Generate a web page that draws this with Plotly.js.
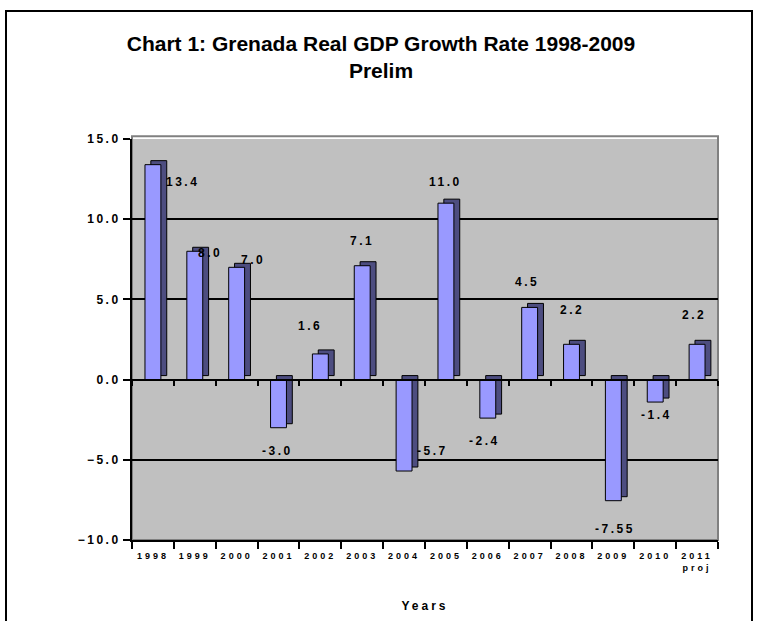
<!DOCTYPE html>
<html>
<head>
<meta charset="utf-8">
<script src="https://cdn.plot.ly/plotly-3.0.1.min.js"></script>
<style>
  body { margin: 0; background: #fff; }
  #wrap { position: relative; width: 762px; height: 621px; overflow: hidden; }
  #chart { width: 762px; height: 621px; }
  #frame { position: absolute; left: 5px; top: 10px; width: 744px; height: 660px; border: 2px solid #000; pointer-events: none; }
  .xtick text { letter-spacing: 3px; }
  .ytick text { letter-spacing: 2.5px; }
  .annotation-text { letter-spacing: 2.5px; }
  .xtitle { letter-spacing: 3px; }
</style>
</head>
<body>
<div id="wrap">
  <div id="chart"></div>
  <div id="frame"></div>
</div>
<script>
// ---- data ----
const years = ['1998','1999','2000','2001','2002','2003','2004','2005','2006','2007','2008','2009','2010','2011'];
const growth = [13.4, 8.0, 7.0, -3.0, 1.6, 7.1, -5.7, 11.0, -2.4, 4.5, 2.2, -7.55, -1.4, 2.2];
const tickLabels = ['1998','1999','2000','2001','2002','2003','2004','2005','2006','2007','2008','2009','2010','2011<br>proj'];
const valueLabels = ['13.4','8.0','7.0','-3.0','1.6','7.1','-5.7','11.0','-2.4','4.5','2.2','-7.55','-1.4','2.2'];
const yTicks = [-10, -5, 0, 5, 10, 15];
const gridVals = [-5, 5, 10];

// ---- label placement (pixel offsets from bar end) ----
const labelDx = [30, 15, 16, -1, -10, 0, 28, 0, -3, -3, 0, 2, 1, -3];
const labelDy = [-17, -2, 7, -23, 28, 25, 20, 21, -23, 25, 34, -28, -13, 29];

const FONT = 'Liberation Sans, Arial, sans-serif';
const barWidth = 0.38;
const depthX = 0.14;   // 3D depth offset (category units)
const depthY = 0.25;   // 3D depth offset (value units)

const depthTrace = {
  type: 'bar', x: years, y: growth, base: depthY,
  width: barWidth, offset: -barWidth / 2 + depthX,
  marker: { color: '#4d4d80', line: { color: '#000', width: 1 } },
  xaxis: 'x', yaxis: 'y', hoverinfo: 'skip', showlegend: false
};
const frontTrace = {
  type: 'bar', x: years, y: growth,
  width: barWidth, offset: -barWidth / 2,
  marker: { color: '#9999ff', line: { color: '#000', width: 1 } },
  xaxis: 'x2', yaxis: 'y', showlegend: false
};

const annotations = years.map((yr, i) => ({
  x: i, y: growth[i], xref: 'x', yref: 'y',
  text: valueLabels[i], showarrow: false,
  xanchor: 'center', yanchor: 'middle',
  xshift: labelDx[i], yshift: labelDy[i],
  font: { family: FONT, size: 12, weight: 700, color: '#000' }
}));

const catAxis = {
  type: 'category', categoryorder: 'array', categoryarray: years,
  range: [-0.5, years.length - 0.5], fixedrange: true
};

const layout = {
  width: 762, height: 621,
  margin: { l: 132, r: 44, t: 139, b: 81 },
  paper_bgcolor: '#ffffff',
  plot_bgcolor: '#c0c0c0',
  barmode: 'overlay',
  title: {
    text: 'Chart 1: Grenada Real GDP Growth Rate 1998-2009<br>Prelim',
    font: { family: FONT, size: 21, weight: 700, color: '#000' },
    x: 0.5, xanchor: 'center', y: 1 - 51 / 621, yanchor: 'top', yref: 'container'
  },
  shapes: [{
    type: 'rect', xref: 'paper', yref: 'paper', x0: 0, x1: 1, y0: 0, y1: 1.007,
    line: { color: '#808080', width: 2 }, fillcolor: 'rgba(0,0,0,0)', layer: 'below'
  }],
  xaxis: Object.assign({}, catAxis, {
    tickmode: 'array', tickvals: years, ticktext: tickLabels,
    tickson: 'boundaries', ticks: 'outside', ticklen: 7, tickwidth: 2, tickcolor: '#000',
    ticklabelstandoff: 6,
    showline: true, linecolor: '#000', linewidth: 2, showgrid: false,
    tickfont: { family: FONT, size: 9, weight: 700, color: '#000' },
    title: { text: 'Years', standoff: 30, font: { family: FONT, size: 12, weight: 700, color: '#000' } },
    automargin: false
  }),
  xaxis2: Object.assign({}, catAxis, {
    overlaying: 'x', anchor: 'free', position: 0.4,
    tickson: 'boundaries', ticks: 'outside', ticklen: 5, tickwidth: 2, tickcolor: '#000',
    showline: true, linecolor: '#000', linewidth: 2, showgrid: false, showticklabels: false
  }),
  yaxis: {
    range: [-10, 15], tickmode: 'array', tickvals: yTicks, tickformat: '.1f',
    ticks: 'outside', ticklen: 7, tickwidth: 2, tickcolor: '#000',
    showline: true, linecolor: '#000', linewidth: 2,
    showgrid: false, zeroline: false,
    minor: { tickmode: 'array', tickvals: gridVals, showgrid: true, gridcolor: '#000', gridwidth: 2, ticks: '' },
    tickfont: { family: FONT, size: 12, weight: 700, color: '#000' },
    automargin: false, fixedrange: true
  },
  annotations: annotations
};

Plotly.newPlot('chart', [depthTrace, frontTrace], layout, { displayModeBar: false, staticPlot: true });
</script>
</body>
</html>
